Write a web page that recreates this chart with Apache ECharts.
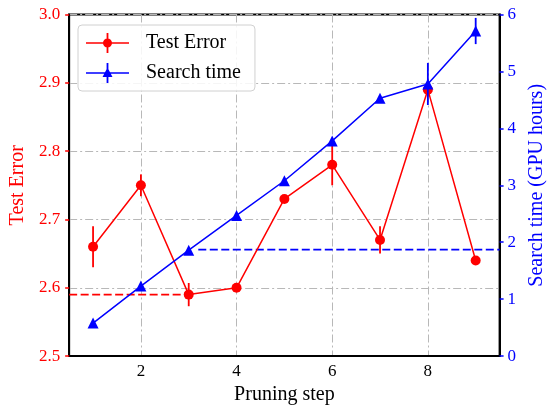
<!DOCTYPE html>
<html>
<head>
<meta charset="utf-8">
<script src="https://cdn.jsdelivr.net/npm/echarts@6/dist/echarts.min.js"></script>
<style>
  html, body { margin: 0; padding: 0; background: #fff; }
  #main { width: 555px; height: 410px; }
</style>
</head>
<body>
<div id="main"></div>
<script>
var steps = [1, 2, 3, 4, 5, 6, 7, 8, 9];
var testError = [2.66, 2.75, 2.59, 2.60, 2.73, 2.78, 2.67, 2.89, 2.64];
var testErrorStd = [0.03, 0.016, 0.017, 0.004, 0.004, 0.03, 0.02, 0.01, 0.004];
var searchTime = [0.58, 1.23, 1.86, 2.47, 3.08, 3.78, 4.53, 4.78, 5.71];
var searchTimeStd = [0.03, 0.03, 0.03, 0.03, 0.03, 0.03, 0.03, 0.37, 0.23];
var leftTicks = [2.5, 2.6, 2.7, 2.8, 2.9, 3.0];
var rightTicks = [0, 1, 2, 3, 4, 5, 6];
var xTicks = [2, 4, 6, 8];
var bestError = 2.59;
var bestErrorSpan = [0.5, 3];
var refTime = 1.87;
var refTimeSpan = [3.2, 9.5];

var myChart = echarts.init(document.getElementById('main'));

var serif = 'Liberation Serif';
var gridLine = { color: '#b8b8b8', width: 1, type: [8, 3, 2, 3] };

function pairs(xs, ys) {
  return xs.map(function (x, i) { return [x, ys[i]]; });
}
function errData(xs, ys, es) {
  return xs.map(function (x, i) { return [x, ys[i] - es[i], ys[i] + es[i]]; });
}
function errBars(color) {
  return function (params, api) {
    var p1 = api.coord([api.value(0), api.value(1)]);
    var p2 = api.coord([api.value(0), api.value(2)]);
    return {
      type: 'line',
      shape: { x1: p1[0], y1: p1[1], x2: p2[0], y2: p2[1] },
      style: { stroke: color, lineWidth: 1.8 }
    };
  };
}

var redIcon = 'path://M0,9.2 L43,9.2 L43,10.8 L0,10.8 Z M20.6,0 L22.4,0 L22.4,20 L20.6,20 Z M21.5,5.5 A4.5,4.5 0 1,1 21.49,5.5 Z';
var blueIcon = 'path://M0,9.2 L43,9.2 L43,10.8 L0,10.8 Z M20.6,0 L22.4,0 L22.4,20 L20.6,20 Z M21.5,4.5 L26.5,14 L16.5,14 Z';

var option = {
  animation: false,
  grid: { left: 67, right: 41.5, top: 14.5, bottom: 50, show: true, borderColor: '#000', borderWidth: 2 },
  legend: {
    orient: 'vertical',
    left: 78,
    top: 25,
    padding: [8, 14, 8, 8],
    itemWidth: 43,
    itemHeight: 20,
    itemGap: 10,
    backgroundColor: 'rgba(255,255,255,0.85)',
    borderColor: '#d0d0d0',
    borderWidth: 1,
    borderRadius: 4,
    textStyle: { fontFamily: serif, fontSize: 20, color: '#000', padding: [0, 0, 0, 12] },
    data: [
      { name: 'Test Error', icon: redIcon },
      { name: 'Search time', icon: blueIcon }
    ]
  },
  xAxis: {
    type: 'value',
    min: 0.5,
    max: 9.5,
    name: 'Pruning step',
    nameLocation: 'middle',
    nameGap: 28,
    nameTextStyle: { fontFamily: serif, fontSize: 20, color: '#000' },
    axisLine: { lineStyle: { color: '#000', width: 2 } },
    axisTick: { show: false, customValues: xTicks },
    axisLabel: { customValues: xTicks, fontFamily: serif, fontSize: 17, color: '#000', margin: 7 },
    splitLine: { show: true, lineStyle: gridLine }
  },
  yAxis: [
    {
      type: 'value',
      min: leftTicks[0],
      max: leftTicks[leftTicks.length - 1],
      interval: 0.1,
      name: 'Test Error',
      nameLocation: 'middle',
      nameGap: 41,
      nameTextStyle: { fontFamily: serif, fontSize: 20, color: '#ff0000' },
      axisLine: { show: true, lineStyle: { color: '#000', width: 2 } },
      axisTick: { show: true, length: 4, lineStyle: { color: '#ff0000', width: 1.5 } },
      axisLabel: { fontFamily: serif, fontSize: 17, color: '#ff0000', margin: 9,
        formatter: function (v) { return v.toFixed(1); } },
      splitLine: { show: true, lineStyle: gridLine }
    },
    {
      type: 'value',
      position: 'right',
      min: rightTicks[0],
      max: rightTicks[rightTicks.length - 1],
      interval: 1,
      name: 'Search time (GPU hours)',
      nameLocation: 'middle',
      nameGap: 22,
      nameTextStyle: { fontFamily: serif, fontSize: 20, color: '#0000ff' },
      axisLine: { show: true, lineStyle: { color: '#000', width: 2 } },
      axisTick: { show: true, length: 4, lineStyle: { color: '#0000ff', width: 1.5 } },
      axisLabel: { fontFamily: serif, fontSize: 17, color: '#0000ff', margin: 8 },
      splitLine: { show: false }
    }
  ],
  series: [
    {
      name: 'Best error',
      type: 'line',
      yAxisIndex: 0,
      symbol: 'none',
      lineStyle: { color: '#ff0000', width: 1.8, type: [8, 3.5] },
      data: pairs(bestErrorSpan, [bestError, bestError]),
      z: 2
    },
    {
      name: 'Ref time',
      type: 'line',
      yAxisIndex: 1,
      symbol: 'none',
      lineStyle: { color: '#0000ff', width: 1.8, type: [8, 3.5] },
      data: pairs(refTimeSpan, [refTime, refTime]),
      z: 2
    },
    {
      name: 'Test Error',
      type: 'line',
      yAxisIndex: 0,
      color: '#ff0000',
      symbol: 'circle',
      symbolSize: 10,
      lineStyle: { color: '#ff0000', width: 1.5 },
      itemStyle: { color: '#ff0000' },
      data: pairs(steps, testError),
      z: 3
    },
    {
      name: 'Test Error err',
      type: 'custom',
      yAxisIndex: 0,
      renderItem: errBars('#ff0000'),
      data: errData(steps, testError, testErrorStd),
      z: 3
    },
    {
      name: 'Search time',
      type: 'line',
      yAxisIndex: 1,
      color: '#0000ff',
      symbol: 'triangle',
      symbolSize: 11,
      lineStyle: { color: '#0000ff', width: 1.5 },
      itemStyle: { color: '#0000ff' },
      data: pairs(steps, searchTime),
      z: 4
    },
    {
      name: 'Search time err',
      type: 'custom',
      yAxisIndex: 1,
      renderItem: errBars('#0000ff'),
      data: errData(steps, searchTime, searchTimeStd),
      z: 4
    }
  ]
};

myChart.setOption(option);
</script>
</body>
</html>
